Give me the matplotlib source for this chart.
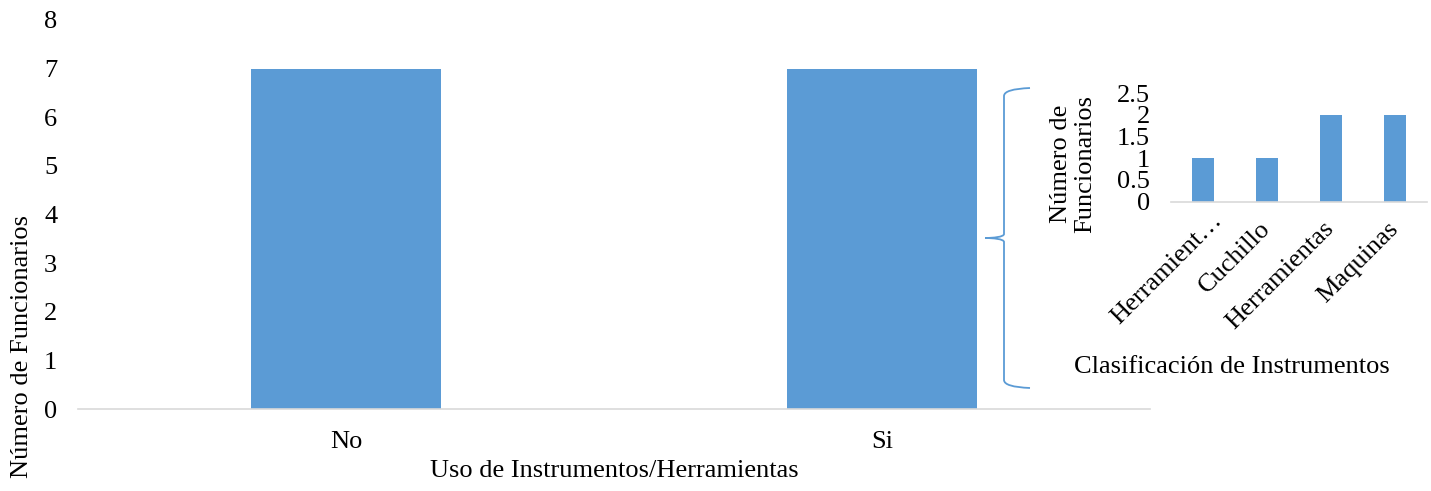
import matplotlib.pyplot as plt
from matplotlib.path import Path
from matplotlib.patches import PathPatch
from matplotlib.transforms import ScaledTranslation

plt.rcParams['font.family'] = ['Liberation Serif', 'DejaVu Serif']

# datos del gráfico principal
uso = ["No", "Si"]
funcionarios = [7, 7]

# datos del gráfico pequeño
clases = ["Herramient…", "Cuchillo", "Herramientas", "Maquinas"]
funcionarios_clase = [1, 1, 2, 2]

azul = "#5B9BD5"
gris = "#D9D9D9"
fs = 19

W, H = 1431, 491
fig = plt.figure(figsize=(W / 100, H / 100), dpi=100)


def caja(x0, x1, ytop, ybot):
    return [x0 / W, 1 - ybot / H, (x1 - x0) / W, (ybot - ytop) / H]


# Gráfico principal
ax = fig.add_axes(caja(78, 1150, 20, 409))
ax.bar(range(len(uso)), funcionarios, width=0.355, color=azul)
ax.set_xlim(-0.5, len(uso) - 0.5)
ax.set_ylim(0, 8)
ax.set_yticks(range(0, 9))
ax.set_xticks(range(len(uso)))
ax.set_xticklabels(uso)
for s in ["top", "right", "left"]:
    ax.spines[s].set_visible(False)
ax.spines["bottom"].set_color(gris)
ax.spines["bottom"].set_linewidth(1.2)
ax.tick_params(axis="both", length=0, labelsize=fs)
ax.tick_params(axis="y", pad=15)
ax.tick_params(axis="x", pad=16)
fig.text(22 / W, 1 - 346 / H, "Número de Funcionarios", rotation=90,
         ha="center", va="center", fontsize=fs)
fig.text(614 / W, 1 - 471 / H, "Uso de Instrumentos/Herramientas",
         ha="center", va="center", fontsize=fs)

# Gráfico pequeño
ax2 = fig.add_axes(caja(1171, 1427, 93, 201.6))
ax2.bar(range(len(clases)), funcionarios_clase, width=0.34, color=azul)
ax2.set_xlim(-0.5, len(clases) - 0.5)
ax2.set_ylim(0, 2.5)
ax2.set_yticks([0, 0.5, 1, 1.5, 2, 2.5])
ax2.set_yticklabels(["0", "0.5", "1", "1.5", "2", "2.5"])
ax2.set_xticks(range(len(clases)))
ax2.set_xticklabels(clases, rotation=45, ha="right", va="center",
                    rotation_mode="anchor")
for s in ["top", "right", "left"]:
    ax2.spines[s].set_visible(False)
ax2.spines["bottom"].set_color(gris)
ax2.spines["bottom"].set_linewidth(1.2)
ax2.tick_params(axis="both", length=0, labelsize=fs)
ax2.tick_params(axis="y", pad=15)
ax2.tick_params(axis="x", pad=17)
# la etiqueta recortada queda algo más a la derecha, como en Excel
primera = ax2.get_xticklabels()[0]
primera.set_transform(primera.get_transform() +
                      ScaledTranslation(0.16, 0.08, fig.dpi_scale_trans))
fig.text(1073 / W, 1 - 164 / H, "Número de\nFuncionarios", rotation=90,
         ha="center", va="center", fontsize=fs, multialignment="center",
         linespacing=1.1)
fig.text(1232 / W, 1 - 367 / H, "Clasificación de Instrumentos",
         ha="center", va="center", fontsize=fs)

# Llave que une "Si" con el detalle
xv, xe, xt = 1004, 1030, 985
yt, ym, yb = 88, 238, 388
pts = [(xe, yt), (xv, yt + 1), (xv, yt + 8),
       (xv, ym - 4),
       (xv, ym - 1), (xt + 8, ym), (xt, ym),
       (xt + 8, ym), (xv, ym + 1), (xv, ym + 4),
       (xv, yb - 8),
       (xv, yb - 1), (xe, yb)]
codes = [Path.MOVETO, Path.CURVE3, Path.CURVE3,
         Path.LINETO,
         Path.CURVE4, Path.CURVE4, Path.CURVE4,
         Path.CURVE4, Path.CURVE4, Path.CURVE4,
         Path.LINETO,
         Path.CURVE3, Path.CURVE3]
pts = [(x / W, 1 - y / H) for x, y in pts]
fig.patches.append(PathPatch(Path(pts, codes), transform=fig.transFigure,
                             fill=False, edgecolor=azul, linewidth=1.3))

fig.savefig("out.png", dpi=100)
